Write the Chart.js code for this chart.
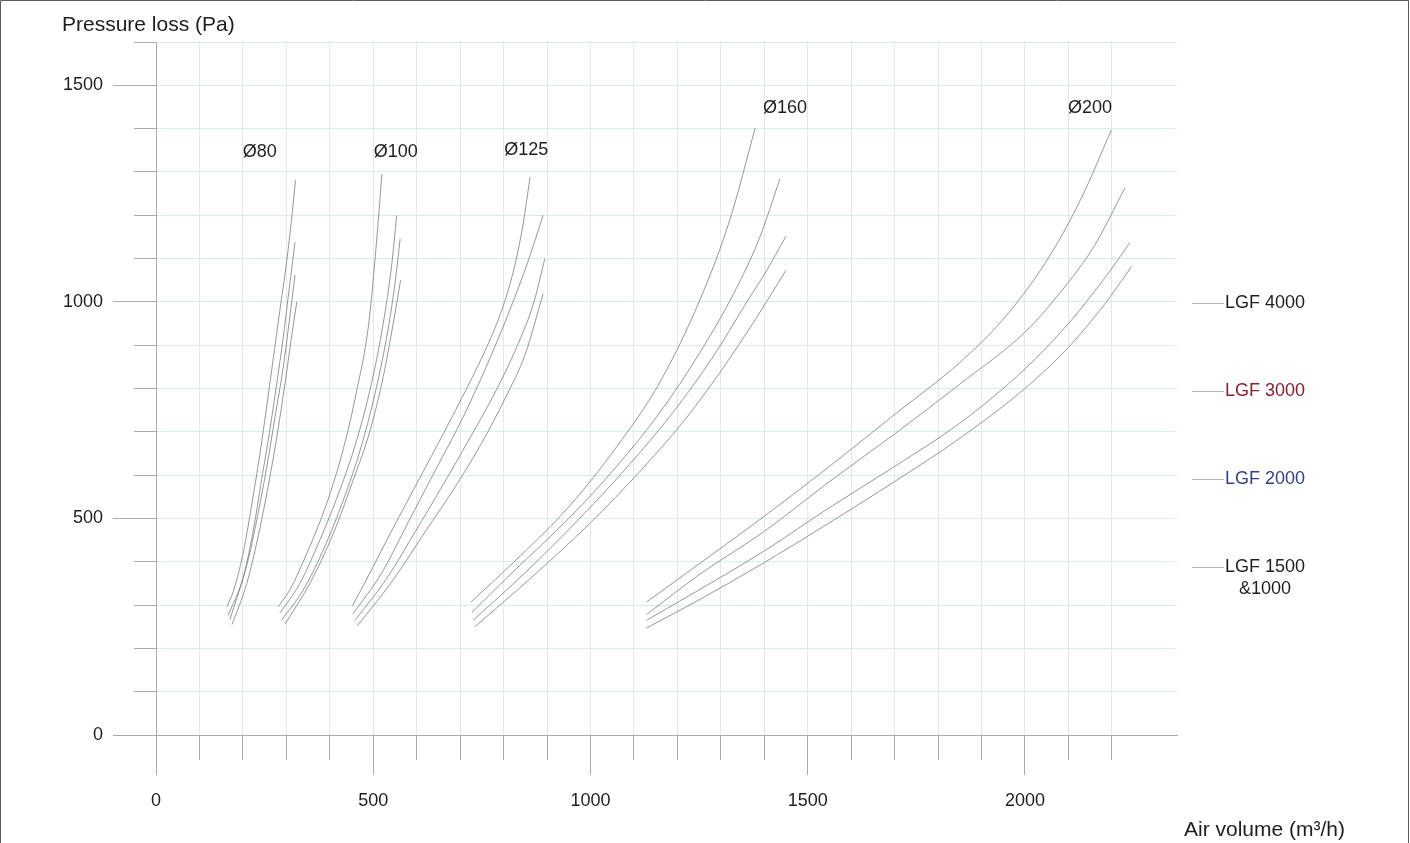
<!DOCTYPE html>
<html>
<head>
<meta charset="utf-8">
<title>Pressure loss</title>
<script src="https://cdn.jsdelivr.net/npm/chart.js@4.4.1/dist/chart.umd.min.js"></script>
<style>
  html, body { margin: 0; padding: 0; background: #fff; }
  canvas { display: block; }
</style>
</head>
<body>
<canvas id="chart" width="1410" height="843"></canvas>
<script>
// [air volume m3/h, pressure loss Pa]
var d80_4000 = [[163,296],[178,332],[201,422],[220,530],[239,648],[255,760],[270,870],[285,980],[301,1095],[312,1190],[321,1281]];
var d80_3000 = [[166,276],[201,365],[224,473],[243,589],[262,704],[278,812],[293,919],[308,1042],[320,1138]];
var d80_2000 = [[170,266],[212,404],[235,512],[255,619],[274,735],[293,850],[308,965],[320,1062]];
var d80_1500 = [[175,255],[209,350],[235,458],[258,573],[278,688],[297,812],[312,919],[324,1000]];

var d100_4000 = [[281,296],[308,335],[347,419],[393,535],[431,660],[462,795],[489,945],[506,1120],[520,1295]];
var d100_3000 = [[285,281],[331,350],[377,450],[423,565],[462,681],[496,812],[523,950],[542,1081],[554,1200]];
var d100_2000 = [[289,265],[339,335],[385,427],[431,542],[470,658],[504,788],[531,919],[550,1042],[562,1146]];
var d100_1500 = [[297,256],[354,350],[408,465],[454,589],[493,704],[523,827],[546,950],[563,1050]];

var d125_4000 = [[452,298],[485,360],[539,465],[600,580],[661,695],[715,800],[761,895],[799,990],[826,1085],[845,1180],[861,1288]];
var d125_3000 = [[453,279],[520,375],[585,500],[645,615],[705,730],[760,850],[810,970],[855,1090],[891,1200]];
var d125_2000 = [[458,265],[530,360],[600,475],[665,585],[725,690],[780,790],[830,895],[870,1000],[895,1100]];
var d125_1500 = [[463,252],[540,350],[620,470],[690,575],[750,675],[805,780],[850,880],[891,1019]];

var d160_4000 = [[725,307],[838,413],[953,530],[1060,665],[1160,815],[1252,1005],[1321,1190],[1379,1401]];
var d160_3000 = [[727,283],[820,375],[950,500],[1060,620],[1160,745],[1250,880],[1330,1020],[1390,1150],[1436,1284]];
var d160_2000 = [[730,265],[850,375],[975,500],[1090,625],[1190,745],[1280,870],[1360,1000],[1410,1080],[1450,1152]];
var d160_1500 = [[734,250],[860,360],[1000,490],[1115,610],[1215,725],[1300,840],[1380,960],[1450,1073]];

var d200_4000 = [[1129,307],[1250,395],[1400,505],[1550,620],[1700,740],[1850,860],[1950,960],[2050,1095],[2130,1240],[2199,1397]];
var d200_3000 = [[1129,278],[1250,370],[1400,470],[1550,585],[1700,695],[1850,810],[2000,930],[2080,1020],[2160,1130],[2230,1263]];
var d200_2000 = [[1129,265],[1250,335],[1400,425],[1550,525],[1700,620],[1850,720],[2000,845],[2100,950],[2180,1050],[2242,1137]];
var d200_1500 = [[1129,247],[1250,312],[1400,398],[1550,490],[1700,585],[1850,685],[2000,800],[2100,895],[2180,990],[2245,1081]];

var ductNames = ['Ø80', 'Ø100', 'Ø125', 'Ø160', 'Ø200'];
var ductLabelX = [239, 552, 852, 1448, 2150];
var ductLabelY = [1346, 1346, 1350, 1447, 1447];

var filterNames = ['LGF 4000', 'LGF 3000', 'LGF 2000', 'LGF 1500 &1000'];
var filterColors = ['#1e1e1e', '#8a1f2e', '#353d8c', '#1e1e1e'];

var xLabels = [0, 500, 1000, 1500, 2000];
var yLabels = [0, 500, 1000, 1500];

var curves = [
  [d80_4000, d80_3000, d80_2000, d80_1500],
  [d100_4000, d100_3000, d100_2000, d100_1500],
  [d125_4000, d125_3000, d125_2000, d125_1500],
  [d160_4000, d160_3000, d160_2000, d160_1500],
  [d200_4000, d200_3000, d200_2000, d200_1500]
];

var FONT = "'Liberation Sans', Arial, sans-serif";
var TEXT = '#1e1e1e';
var AXIS = '#ababab';

var datasets = [];
curves.forEach(function (group, d) {
  group.forEach(function (pts, f) {
    datasets.push({
      label: ductNames[d] + ' ' + filterNames[f],
      data: pts.map(function (p) { return { x: p[0], y: p[1] }; }),
      borderColor: 'rgba(125,125,125,0.8)',
      borderWidth: 1,
      pointRadius: 0,
      fill: false,
      cubicInterpolationMode: 'monotone'
    });
  });
});

function keepHundreds(scale) {
  scale.ticks = scale.ticks.filter(function (t) { return t.value % 100 === 0; });
}

// same snapping Chart.js uses for 1px lines
function snap(px) { return Math.round(px - 0.5) + 0.5; }

var decor = {
  id: 'decor',
  afterDraw: function (chart) {
    var ctx = chart.ctx, x = chart.scales.x, y = chart.scales.y, area = chart.chartArea;
    ctx.save();

    // long ticks at the labelled values
    ctx.strokeStyle = AXIS;
    ctx.lineWidth = 1;
    ctx.beginPath();
    xLabels.forEach(function (v) {
      var px = snap(x.getPixelForValue(v));
      ctx.moveTo(px, area.bottom);
      ctx.lineTo(px, area.bottom + 40);
    });
    yLabels.forEach(function (v) {
      var py = snap(y.getPixelForValue(v));
      ctx.moveTo(area.left - 43, py);
      ctx.lineTo(area.left, py);
    });
    ctx.stroke();

    // frame
    ctx.strokeStyle = '#5a5a5a';
    ctx.beginPath();
    ctx.moveTo(0.5, chart.height);
    ctx.lineTo(0.5, 0.5);
    ctx.lineTo(chart.width - 1.5, 0.5);
    ctx.lineTo(chart.width - 1.5, chart.height);
    ctx.stroke();

    ctx.fillStyle = TEXT;
    ctx.textBaseline = 'middle';

    // axis titles
    ctx.font = '21px ' + FONT;
    ctx.textAlign = 'left';
    ctx.fillText('Pressure loss (Pa)', 62, 25);
    ctx.textAlign = 'right';
    ctx.fillText('Air volume (m³/h)', 1345, 830);

    // duct labels
    ctx.font = '18px ' + FONT;
    ctx.textAlign = 'center';
    ductNames.forEach(function (name, i) {
      ctx.fillText(name, x.getPixelForValue(ductLabelX[i]), y.getPixelForValue(ductLabelY[i]));
    });

    // filter legend
    filterNames.forEach(function (name, i) {
      var ly = area.top + 261 + i * 88;
      var lx = area.right + 15;
      ctx.strokeStyle = '#b5b5b5';
      ctx.beginPath();
      ctx.moveTo(lx, Math.round(ly) + 0.5);
      ctx.lineTo(lx + 32, Math.round(ly) + 0.5);
      ctx.stroke();
      ctx.fillStyle = filterColors[i];
      var lines = name.split(' &');
      if (lines.length > 1) lines[1] = '&' + lines[1];
      lines.forEach(function (t, j) {
        ctx.fillText(t, lx + 73, ly + j * 22);
      });
    });

    ctx.restore();
  }
};

new Chart(document.getElementById('chart'), {
  type: 'line',
  data: { datasets: datasets },
  options: {
    responsive: false,
    animation: false,
    layout: { padding: { top: 42, right: 233, bottom: 0, left: 0 } },
    plugins: {
      legend: { display: false },
      tooltip: { enabled: false }
    },
    scales: {
      x: {
        type: 'linear',
        min: 0,
        max: 2350,
        afterFit: function (s) { s.height = 108; },
        afterBuildTicks: keepHundreds,
        border: { display: true, color: AXIS },
        grid: {
          color: '#dcecec',
          tickColor: AXIS,
          tickLength: 25
        },
        ticks: {
          stepSize: 100,
          autoSkip: false,
          maxRotation: 0,
          padding: 30,
          color: TEXT,
          font: { family: FONT, size: 18 },
          callback: function (v) { return xLabels.indexOf(v) >= 0 ? v : ''; }
        }
      },
      y: {
        type: 'linear',
        min: 0,
        max: 1600,
        afterFit: function (s) { s.width = 156; },
        afterBuildTicks: keepHundreds,
        border: { display: true, color: AXIS },
        grid: {
          color: '#dcecec',
          tickColor: AXIS,
          tickLength: 22
        },
        ticks: {
          stepSize: 100,
          autoSkip: false,
          padding: 31,
          color: TEXT,
          font: { family: FONT, size: 18 },
          callback: function (v) { return yLabels.indexOf(v) >= 0 ? v : ''; }
        }
      }
    }
  },
  plugins: [decor]
});
</script>
</body>
</html>
